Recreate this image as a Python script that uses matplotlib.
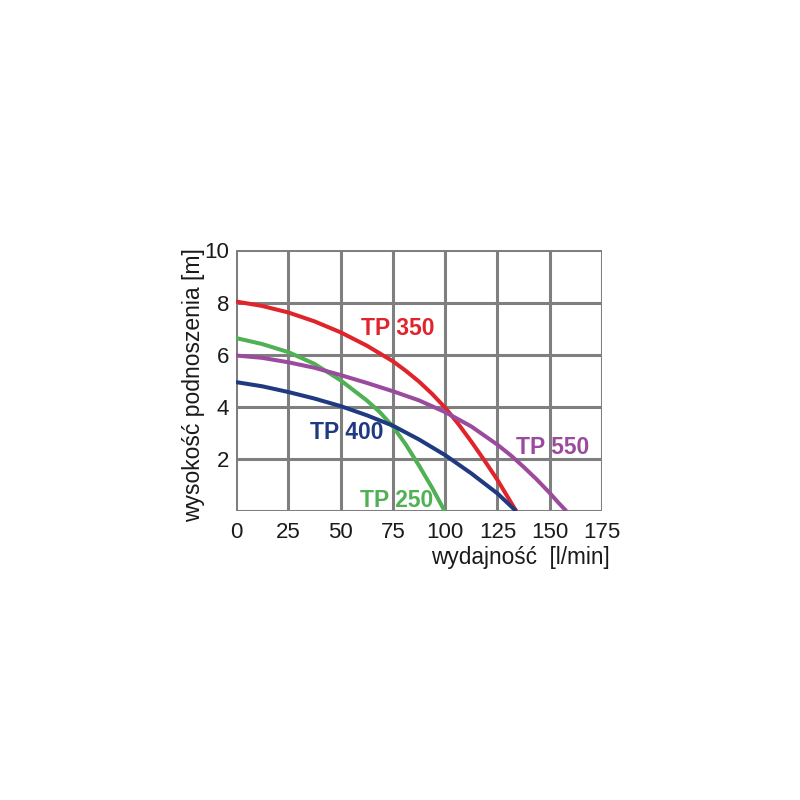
import matplotlib
matplotlib.use('Agg')
import matplotlib.pyplot as plt

plt.rcParams['font.family'] = ['Liberation Sans', 'DejaVu Sans']

# pump curves: flow [l/min] -> head [m]
tp350_x = [0, 12.5, 25, 37.5, 50, 62.5, 75, 81.25, 87.5, 93.75, 100, 106.25, 112.5, 118.75, 125, 129.5, 134]
tp350_y = [8.04, 7.87, 7.62, 7.28, 6.86, 6.35, 5.75, 5.38, 4.97, 4.5, 3.97, 3.35, 2.67, 1.95, 1.2, 0.6, 0.0]

tp250_x = [0, 12.5, 25, 37.5, 50, 62.5, 68.75, 75, 81.25, 87.5, 93.75, 99.8]
tp250_y = [6.64, 6.41, 6.1, 5.65, 5.02, 4.25, 3.8, 3.25, 2.55, 1.75, 0.9, 0.0]

tp550_x = [0, 12.5, 25, 37.5, 50, 62.5, 75, 87.5, 100, 112.5, 125, 131.25, 137.5, 143.75, 150, 154, 158]
tp550_y = [5.97, 5.88, 5.71, 5.5, 5.22, 4.92, 4.6, 4.25, 3.8, 3.25, 2.55, 2.15, 1.7, 1.22, 0.7, 0.34, 0.0]

tp400_x = [0, 12.5, 25, 37.5, 50, 62.5, 75, 87.5, 100, 112.5, 125, 134]
tp400_y = [4.95, 4.79, 4.57, 4.32, 4.03, 3.68, 3.28, 2.75, 2.15, 1.45, 0.68, 0.0]

series = [
    ('TP 350', tp350_x, tp350_y, '#e0242c', (77.5, 7.0)),
    ('TP 250', tp250_x, tp250_y, '#4fb154', (77.0, 0.42)),
    ('TP 550', tp550_x, tp550_y, '#9a4b9e', (151.5, 2.45)),
    ('TP 400', tp400_x, tp400_y, '#1f3a80', (53.0, 3.0)),
]

x_ticks = [0, 25, 50, 75, 100, 125, 150, 175]
y_ticks = [2, 4, 6, 8, 10]

fig = plt.figure(figsize=(8, 8), dpi=100)
ax = fig.add_axes([0.295, 0.361, 0.4575, 0.326])

grid_c = '#7f7f7f'
for gx in x_ticks:
    ax.axvline(gx, color=grid_c, lw=2.2, zorder=1)
for gy in [0] + y_ticks:
    ax.axhline(gy, color=grid_c, lw=2.2, zorder=1)

for name, xs, ys, col, (lx, ly) in series:
    ax.plot(xs, ys, color=col, lw=2.9, solid_capstyle='butt',
            solid_joinstyle='round', zorder=3)
    ax.text(lx, ly, name, color=col, fontsize=16.5, fontweight='bold',
            ha='center', va='center', zorder=4)

ax.set_xlim(0, 175)
ax.set_ylim(0, 10)
ax.set_xticks(x_ticks)
ax.set_yticks(y_ticks)
ax.tick_params(length=0, labelsize=16, colors='#1a1a1a')
ax.tick_params(axis='y', pad=5)
ax.tick_params(axis='x', pad=8)
for s in ax.spines.values():
    s.set_visible(False)

ax.set_ylabel('wysokość podnoszenia [m]', fontsize=16.5, color='#1a1a1a')
ax.yaxis.set_label_coords(-0.084, 0.483)
ax.set_xlabel('wydajność  [l/min]', fontsize=16.3, color='#1a1a1a')
ax.xaxis.set_label_coords(1.022, -0.135)
ax.xaxis.label.set_ha('right')

fig.savefig('out.png', dpi=100)
plt.close(fig)
